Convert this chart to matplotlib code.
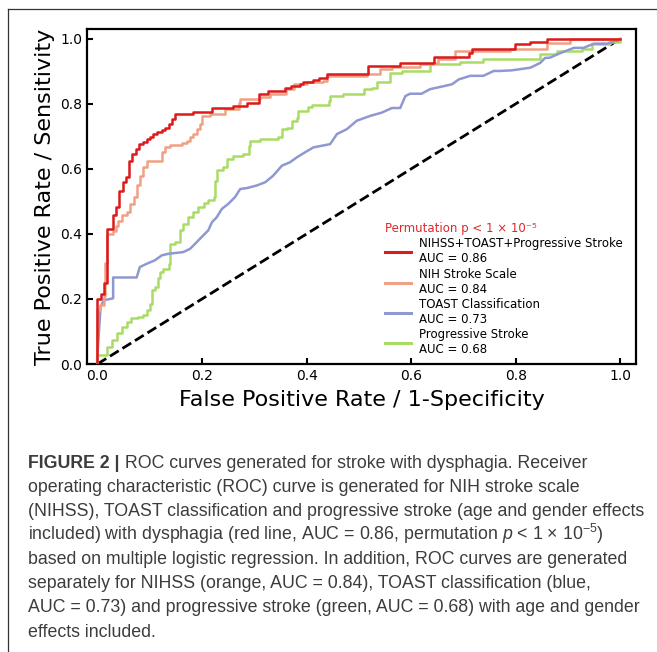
import matplotlib
matplotlib.use('Agg')
import matplotlib.pyplot as plt
from matplotlib.lines import Line2D

plt.rcParams['mathtext.fontset'] = 'custom'
plt.rcParams['mathtext.rm'] = 'Liberation Sans'
plt.rcParams['mathtext.it'] = 'Liberation Sans:italic'
plt.rcParams['mathtext.bf'] = 'Liberation Sans:bold'

# ---------------- data ----------------
red_fpr = [0.0, 0.0, 0.006, 0.012, 0.019, 0.030, 0.035, 0.042, 0.048, 0.055, 0.061, 0.067, 0.074, 0.080,
           0.088, 0.094, 0.100, 0.107, 0.114, 0.123, 0.129, 0.136, 0.142, 0.148, 0.183, 0.219, 0.259, 0.286,
           0.309, 0.327, 0.359, 0.371, 0.387, 0.394, 0.413, 0.423, 0.439, 0.518, 0.579, 0.643, 0.710, 0.716,
           0.799, 0.828, 0.860, 1.0]
red_tpr = [0.0, 0.201, 0.214, 0.249, 0.416, 0.457, 0.484, 0.531, 0.559, 0.574, 0.625, 0.646, 0.661, 0.676,
           0.684, 0.692, 0.699, 0.707, 0.712, 0.719, 0.727, 0.738, 0.753, 0.768, 0.776, 0.787, 0.794, 0.804,
           0.829, 0.840, 0.848, 0.855, 0.862, 0.866, 0.873, 0.880, 0.891, 0.916, 0.926, 0.945, 0.957, 0.970,
           0.983, 0.991, 1.0, 1.0]

orange_fpr = [0.0, 0.0, 0.004, 0.012, 0.014, 0.019, 0.030, 0.035, 0.040, 0.046, 0.056, 0.062, 0.069, 0.075,
              0.081, 0.088, 0.094, 0.123, 0.129, 0.139, 0.161, 0.171, 0.177, 0.183, 0.190, 0.196, 0.199, 0.215,
              0.244, 0.270, 0.273, 0.310, 0.330, 0.360, 0.375, 0.400, 0.432, 0.439, 0.515, 0.541, 0.563, 0.617,
              0.640, 0.652, 0.684, 0.789, 0.860, 0.904, 1.0]
orange_tpr = [0.0, 0.165, 0.180, 0.210, 0.310, 0.400, 0.410, 0.425, 0.441, 0.457, 0.467, 0.492, 0.513, 0.549,
              0.579, 0.605, 0.625, 0.651, 0.666, 0.674, 0.681, 0.686, 0.697, 0.707, 0.722, 0.738, 0.763, 0.768,
              0.783, 0.804, 0.814, 0.820, 0.830, 0.845, 0.860, 0.866, 0.870, 0.886, 0.893, 0.906, 0.913, 0.921,
              0.926, 0.937, 0.962, 0.968, 0.988, 0.998, 1.0]

blue_fpr = [0.0, 0.0, 0.006, 0.012, 0.030, 0.030, 0.075, 0.081, 0.094, 0.110, 0.123, 0.136, 0.164, 0.177,
            0.187, 0.199, 0.212, 0.219, 0.228, 0.238, 0.250, 0.263, 0.273, 0.286, 0.305, 0.321, 0.336, 0.353,
            0.368, 0.381, 0.394, 0.413, 0.445, 0.458, 0.477, 0.496, 0.522, 0.544, 0.563, 0.579, 0.589, 0.598,
            0.620, 0.636, 0.656, 0.678, 0.691, 0.713, 0.738, 0.758, 0.770, 0.793, 0.828, 0.847, 0.856, 0.866,
            0.879, 0.892, 0.911, 0.930, 0.949, 0.975, 1.0]
blue_tpr = [0.0, 0.03, 0.176, 0.196, 0.202, 0.266, 0.266, 0.298, 0.308, 0.319, 0.334, 0.339, 0.344, 0.354,
            0.370, 0.390, 0.411, 0.436, 0.451, 0.477, 0.492, 0.513, 0.538, 0.541, 0.549, 0.559, 0.579, 0.610,
            0.620, 0.635, 0.648, 0.666, 0.676, 0.707, 0.722, 0.748, 0.763, 0.773, 0.787, 0.787, 0.824, 0.831,
            0.831, 0.845, 0.852, 0.860, 0.875, 0.886, 0.886, 0.901, 0.901, 0.903, 0.911, 0.926, 0.941, 0.942,
            0.952, 0.960, 0.972, 0.972, 0.985, 0.985, 1.0]

green_fpr = [0.0, 0.0, 0.019, 0.019, 0.027, 0.037, 0.046, 0.056, 0.065, 0.078, 0.088, 0.094, 0.100, 0.104,
             0.110, 0.116, 0.120, 0.126, 0.136, 0.139, 0.148, 0.158, 0.164, 0.174, 0.183, 0.193, 0.203, 0.212,
             0.222, 0.225, 0.228, 0.241, 0.247, 0.260, 0.279, 0.289, 0.292, 0.311, 0.346, 0.352, 0.362, 0.372,
             0.381, 0.384, 0.403, 0.410, 0.442, 0.445, 0.470, 0.509, 0.525, 0.534, 0.560, 0.582, 0.636, 0.694,
             0.738, 0.847, 0.879, 0.927, 0.946, 0.981, 1.0]
green_tpr = [0.0, 0.028, 0.028, 0.053, 0.074, 0.094, 0.114, 0.130, 0.140, 0.145, 0.150, 0.165, 0.186, 0.227,
             0.237, 0.263, 0.283, 0.293, 0.308, 0.370, 0.375, 0.411, 0.431, 0.451, 0.467, 0.482, 0.494, 0.503,
             0.513, 0.564, 0.595, 0.605, 0.630, 0.640, 0.646, 0.671, 0.686, 0.692, 0.699, 0.722, 0.727, 0.748,
             0.756, 0.778, 0.791, 0.797, 0.809, 0.824, 0.831, 0.845, 0.850, 0.866, 0.896, 0.901, 0.921, 0.929,
             0.937, 0.952, 0.962, 0.967, 0.983, 0.990, 1.0]

series_labels = ["NIHSS+TOAST+Progressive Stroke\nAUC = 0.86",
                 "NIH Stroke Scale\nAUC = 0.84",
                 "TOAST Classification\nAUC = 0.73",
                 "Progressive Stroke\nAUC = 0.68"]
legend_title = "Permutation p < 1 \u00d7 10\u207b\u2075"
tick_vals = [0.0, 0.2, 0.4, 0.6, 0.8, 1.0]
tick_labels = ["0.0", "0.2", "0.4", "0.6", "0.8", "1.0"]

caption_lines = [
    "operating characteristic (ROC) curve is generated for NIH stroke scale",
    "(NIHSS), TOAST classification and progressive stroke (age and gender effects",
    "included) with dysphagia (red line, AUC = 0.86, permutation $p$ < 1 \u00d7 10$^{-5}$)",
    "based on multiple logistic regression. In addition, ROC curves are generated",
    "separately for NIHSS (orange, AUC = 0.84), TOAST classification (blue,",
    "AUC = 0.73) and progressive stroke (green, AUC = 0.68) with age and gender",
    "effects included.",
]
caption_bold = "FIGURE 2 |"
caption_first = " ROC curves generated for stroke with dysphagia. Receiver"

# ---------------- figure ----------------
W, H = 657, 652
fig = plt.figure(figsize=(W / 100, H / 100), dpi=100)
ax = fig.add_axes([87 / W, 1 - 364 / H, (636 - 87) / W, (364 - 29) / H])

c_red = '#dc1a1c'
c_orange = '#eea184'
c_blue = '#8f98d0'
c_green = '#a9dc66'
lw = 1.8

ax.plot([0, 1], [0, 1], color='black', lw=2.0, ls='--', zorder=1)
h4, = ax.step(green_fpr, green_tpr, where='post', color=c_green, lw=lw, zorder=2)
h3, = ax.plot(blue_fpr, blue_tpr, color=c_blue, lw=lw, zorder=3)
h2, = ax.step(orange_fpr, orange_tpr, where='post', color=c_orange, lw=lw, zorder=4)
h1, = ax.step(red_fpr, red_tpr, where='post', color=c_red, lw=lw, zorder=5)

ax.set_xlim(-0.02, 1.03)
ax.set_ylim(0.0, 1.03)
ax.set_xticks(tick_vals)
ax.set_xticklabels(tick_labels)
ax.set_yticks(tick_vals)
ax.set_yticklabels(tick_labels)
ax.tick_params(direction='in', length=4.5, width=1.5, labelsize=10, pad=3.5)
for s in ax.spines.values():
    s.set_linewidth(1.6)
ax.set_xlabel("False Positive Rate / 1-Specificity", fontsize=16, labelpad=5)
ax.set_ylabel("True Positive Rate / Sensitivity", fontsize=16, labelpad=4)

leg = ax.legend([h1, h2, h3, h4], series_labels, loc='lower right', frameon=False,
                bbox_to_anchor=(1.0 - 3 / 549, -3 / 335),
                fontsize=8.5, title=legend_title, title_fontsize=8.5,
                handlelength=2.2, handletextpad=0.65, labelspacing=0.2)
leg.get_title().set_color('#e0282a')
leg._legend_box.align = 'left'
for line in leg.get_lines():
    line.set_linewidth(2.2)

# frame lines of the page
fig.add_artist(Line2D([8 / W, 1.0], [1 - 9 / H, 1 - 9 / H], color='#333333', lw=0.9))
fig.add_artist(Line2D([8 / W, 8 / W], [1 - 9 / H, 0.0], color='#333333', lw=0.9))

# caption
cap_font = ['Liberation Sans', 'DejaVu Sans']
cap_size = 12.8
cap_color = '#3c3c3c'
x0 = 28 / W
baselines = [468, 492, 516, 540, 564, 588, 612, 637]
tb = fig.text(x0, 1 - baselines[0] / H, caption_bold, fontsize=cap_size, fontweight='bold',
              family=cap_font, color=cap_color, va='baseline', ha='left')
renderer = fig.canvas.get_renderer()
bb = tb.get_window_extent(renderer)
fig.text(bb.x1 / W, 1 - baselines[0] / H, caption_first, fontsize=cap_size,
         family=cap_font, color=cap_color, va='baseline', ha='left')
for i, line in enumerate(caption_lines):
    fig.text(x0, 1 - baselines[i + 1] / H, line, fontsize=cap_size, family=cap_font,
             color=cap_color, va='baseline', ha='left')

fig.savefig('out.png', dpi=100)
